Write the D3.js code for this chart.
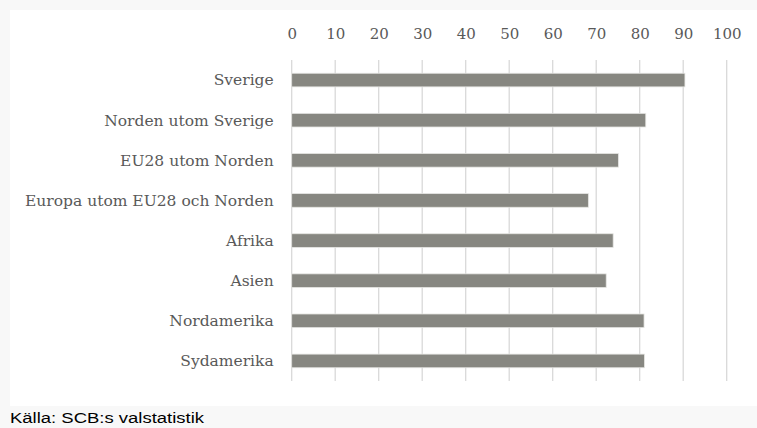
<!DOCTYPE html>
<html>
<head>
<meta charset="utf-8">
<script src="https://cdn.jsdelivr.net/npm/d3@7"></script>
<style>
  body { margin: 0; background: #f8f8f8; }
  svg { display: block; }
</style>
</head>
<body>
<div class="chart"></div>
<script>
var svgWidth = 757;
var svgHeight = 428;

// data
var categories = ["Sverige", "Norden utom Sverige", "EU28 utom Norden",
  "Europa utom EU28 och Norden", "Afrika", "Asien", "Nordamerika", "Sydamerika"];
var values = [90.4, 81.4, 75.1, 68.2, 73.9, 72.3, 81.0, 81.1];
var tickValues = [0, 10, 20, 30, 40, 50, 60, 70, 80, 90, 100];
var sourceText = "Källa: SCB:s valstatistik";

var margin = { top: 60, right: 30, bottom: 47, left: 291.7 };
var width = 726.7 - margin.left;
var height = 381 - margin.top;

var svg = d3.select(".chart")
  .append("svg")
  .attr("width", svgWidth)
  .attr("height", svgHeight);

// white chart panel
svg.append("rect")
  .attr("x", 10)
  .attr("y", 10)
  .attr("width", svgWidth - 10)
  .attr("height", 396)
  .attr("fill", "#ffffff");

var chartGroup = svg.append("g")
  .attr("transform", `translate(${margin.left}, ${margin.top})`);

var xScale = d3.scaleLinear()
  .domain([0, 100])
  .range([0, width]);

var yScale = d3.scaleBand()
  .domain(categories)
  .range([0, height])
  .paddingInner(0.66)
  .paddingOuter(0.33);

// vertical gridlines
chartGroup.append("g")
  .selectAll("line")
  .data(tickValues)
  .enter()
  .append("line")
  .attr("x1", d => xScale(d))
  .attr("x2", d => xScale(d))
  .attr("y1", 0)
  .attr("y2", height)
  .attr("stroke", "#d9d9d9")
  .attr("stroke-width", 1.3);

// top axis labels
var topAxis = d3.axisTop(xScale).tickValues(tickValues).tickSize(0).tickPadding(0);
var xAxis = chartGroup.append("g")
  .attr("transform", "translate(0, -21)")
  .call(topAxis);
xAxis.select(".domain").remove();
xAxis.selectAll("text")
  .attr("fill", "#595959")
  .style("font-family", "'DejaVu Serif', serif")
  .style("font-size", "15px");

// bars
chartGroup.selectAll("rect.bar")
  .data(values)
  .enter()
  .append("rect")
  .attr("class", "bar")
  .attr("x", xScale(0))
  .attr("y", (d, i) => yScale(categories[i]))
  .attr("width", d => xScale(d) - xScale(0))
  .attr("height", yScale.bandwidth())
  .attr("fill", "#878781")
  .attr("stroke", "#e6e6e3")
  .attr("stroke-width", 0.8);

// category labels
chartGroup.selectAll("text.cat")
  .data(categories)
  .enter()
  .append("text")
  .attr("class", "cat")
  .attr("x", -18)
  .attr("y", d => yScale(d) + yScale.bandwidth() / 2)
  .attr("dy", "0.35em")
  .attr("text-anchor", "end")
  .attr("fill", "#595959")
  .style("font-family", "'DejaVu Serif', serif")
  .style("font-size", "15.5px")
  .text(d => d);

// source note
svg.append("text")
  .attr("x", 10)
  .attr("y", 423)
  .attr("fill", "#000000")
  .attr("textLength", 194)
  .attr("lengthAdjust", "spacingAndGlyphs")
  .style("font-family", "'Liberation Sans', Arial, sans-serif")
  .style("font-size", "15.5px")
  .text(sourceText);
</script>
</body>
</html>
